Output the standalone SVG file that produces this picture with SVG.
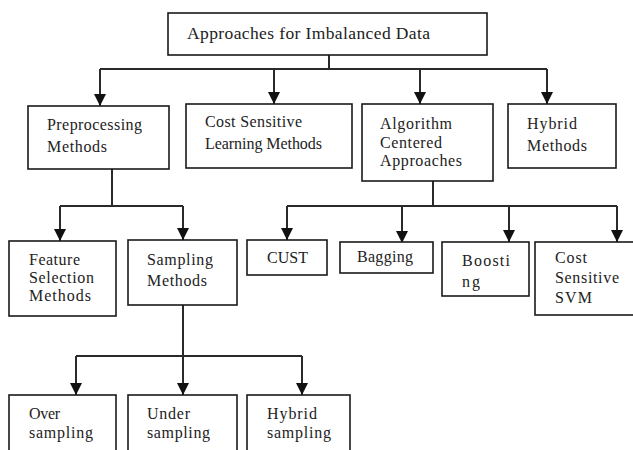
<svg xmlns="http://www.w3.org/2000/svg" width="633" height="450" viewBox="0 0 633 450" font-family="'Liberation Serif', 'DejaVu Serif', serif">
<style>
.box{fill:#fff;stroke:#1a1a1a;stroke-width:1.6}
.ln{fill:none;stroke:#2a2a2a;stroke-width:2}
text{font-family:'Liberation Serif','DejaVu Serif',serif;font-size:16px;fill:#222}
.t{font-size:17.5px}
</style>
<defs>
<marker id="ah" viewBox="0 0 12 12" refX="12" refY="6" markerWidth="12" markerHeight="12" markerUnits="userSpaceOnUse" orient="auto">
<path d="M0,0 L12,6 L0,12 z" fill="#111"/>
</marker>
</defs>
<rect width="633" height="450" fill="#fff"/>
<g id="connectors">
<path class="ln" d="M329,55 V69 M100,69 H547 M287,206 H617 M433,181 V206 M112,169 V206 M60,206 H183 M183,305 V356 M76,356 H302"/>
<path class="ln" d="M100,69 V106" marker-end="url(#ah)"/>
<path class="ln" d="M274,69 V104" marker-end="url(#ah)"/>
<path class="ln" d="M420,69 V104" marker-end="url(#ah)"/>
<path class="ln" d="M547,69 V104" marker-end="url(#ah)"/>
<path class="ln" d="M60,206 V241" marker-end="url(#ah)"/>
<path class="ln" d="M183,206 V240" marker-end="url(#ah)"/>
<path class="ln" d="M287,206 V240" marker-end="url(#ah)"/>
<path class="ln" d="M402,206 V243" marker-end="url(#ah)"/>
<path class="ln" d="M509,206 V242" marker-end="url(#ah)"/>
<path class="ln" d="M617,206 V242" marker-end="url(#ah)"/>
<path class="ln" d="M76,356 V395" marker-end="url(#ah)"/>
<path class="ln" d="M183,356 V395" marker-end="url(#ah)"/>
<path class="ln" d="M302,356 V395" marker-end="url(#ah)"/>
</g>
<g id="root">
<rect class="box" x="168" y="13" width="319" height="42"/>
<text class="t" x="187" y="39" textLength="243" lengthAdjust="spacing">Approaches for Imbalanced Data</text>
</g>
<g id="preprocessing">
<rect class="box" x="28" y="106" width="141" height="63"/>
<text x="47" y="130" textLength="95" lengthAdjust="spacing">Preprocessing</text>
<text x="47" y="152" textLength="60" lengthAdjust="spacing">Methods</text>
</g>
<g id="costsensitive">
<rect class="box" x="186" y="104" width="166" height="64"/>
<text x="205" y="127" textLength="97" lengthAdjust="spacing">Cost Sensitive</text>
<text x="205" y="149" textLength="117" lengthAdjust="spacing">Learning Methods</text>
</g>
<g id="algorithm">
<rect class="box" x="362" y="104" width="131" height="77"/>
<text x="380" y="129" textLength="72" lengthAdjust="spacing">Algorithm</text>
<text x="380" y="148" textLength="62" lengthAdjust="spacing">Centered</text>
<text x="380" y="166" textLength="82" lengthAdjust="spacing">Approaches</text>
</g>
<g id="hybridmethods">
<rect class="box" x="508" y="104" width="108" height="64"/>
<text x="527" y="129" textLength="50" lengthAdjust="spacing">Hybrid</text>
<text x="527" y="151" textLength="60" lengthAdjust="spacing">Methods</text>
</g>
<g id="feature">
<rect class="box" x="9" y="241" width="107" height="75"/>
<text x="29" y="265" textLength="51" lengthAdjust="spacing">Feature</text>
<text x="29" y="283" textLength="65" lengthAdjust="spacing">Selection</text>
<text x="29" y="301" textLength="62" lengthAdjust="spacing">Methods</text>
</g>
<g id="sampling">
<rect class="box" x="128" y="240" width="109" height="65"/>
<text x="147" y="265" textLength="66" lengthAdjust="spacing">Sampling</text>
<text x="147" y="286" textLength="60" lengthAdjust="spacing">Methods</text>
</g>
<g id="cust">
<rect class="box" x="247" y="240" width="80" height="35"/>
<text x="267" y="263" textLength="41" lengthAdjust="spacing">CUST</text>
</g>
<g id="bagging">
<rect class="box" x="340" y="242" width="93" height="31"/>
<text x="357" y="262" textLength="56" lengthAdjust="spacing">Bagging</text>
</g>
<g id="boosting">
<rect class="box" x="442" y="242" width="87" height="54"/>
<text x="462" y="266" textLength="48" lengthAdjust="spacing">Boosti</text>
<text x="462" y="287" textLength="18" lengthAdjust="spacing">ng</text>
</g>
<g id="svm">
<rect class="box" x="535" y="242" width="110" height="73"/>
<text x="555" y="263" textLength="32" lengthAdjust="spacing">Cost</text>
<text x="555" y="283" textLength="64" lengthAdjust="spacing">Sensitive</text>
<text x="555" y="303" textLength="37" lengthAdjust="spacing">SVM</text>
</g>
<g id="oversampling">
<rect class="box" x="9" y="395" width="107" height="70"/>
<text x="29" y="419" textLength="31" lengthAdjust="spacing">Over</text>
<text x="29" y="438" textLength="64" lengthAdjust="spacing">sampling</text>
</g>
<g id="undersampling">
<rect class="box" x="128" y="395" width="109" height="70"/>
<text x="147" y="419" textLength="43" lengthAdjust="spacing">Under</text>
<text x="147" y="438" textLength="63" lengthAdjust="spacing">sampling</text>
</g>
<g id="hybridsampling">
<rect class="box" x="247" y="395" width="103" height="70"/>
<text x="267" y="419" textLength="50" lengthAdjust="spacing">Hybrid</text>
<text x="267" y="438" textLength="64" lengthAdjust="spacing">sampling</text>
</g>
</svg>
